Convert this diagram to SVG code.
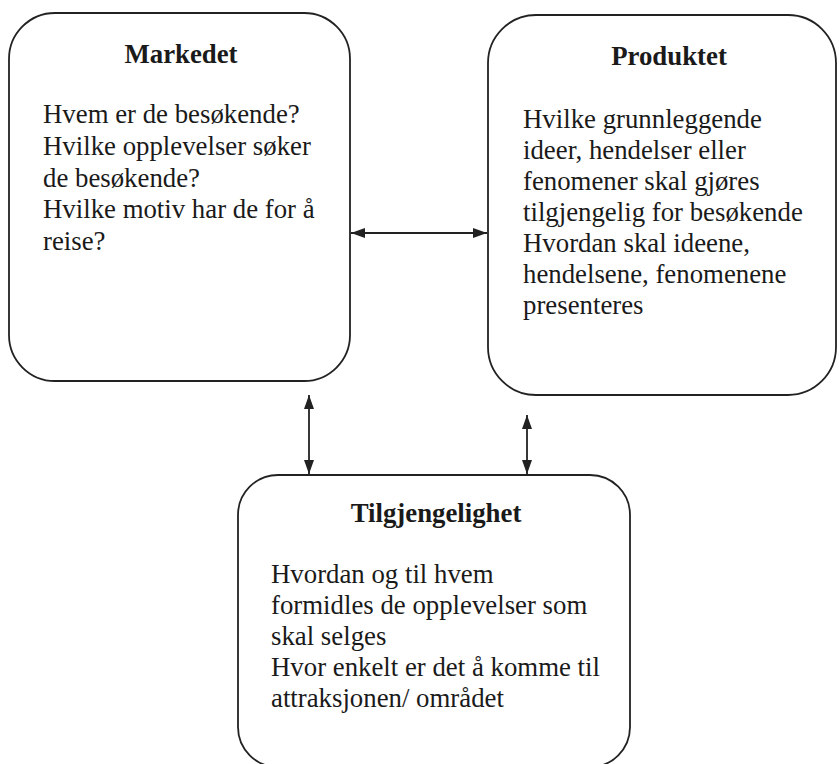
<svg xmlns="http://www.w3.org/2000/svg" width="839" height="764" viewBox="0 0 839 764">
  <defs>
    <style>
      .box { fill: #ffffff; stroke: #222222; stroke-width: 1.8; }
      .ttl { font-weight: bold; text-anchor: middle; }
      .conn { stroke: #222222; stroke-width: 1.8; fill: none; }
    </style>
    <marker id="arrow" viewBox="0 0 14 10" refX="14" refY="5" markerWidth="14" markerHeight="10" markerUnits="userSpaceOnUse" orient="auto-start-reverse">
      <path d="M0,0 L14,5 L0,10 Z" fill="#222222"/>
    </marker>
  </defs>
  <rect width="839" height="764" fill="#ffffff"/>

  <g id="markedet" font-family="Liberation Serif" font-size="26.8px" fill="#1a1a1a">
    <rect class="box" x="9" y="13" width="341" height="368" rx="46" ry="46"/>
    <text class="ttl" x="181" y="63">Markedet</text>
    <text x="43" y="123">Hvem er de besøkende?</text>
    <text x="43" y="155">Hvilke opplevelser søker</text>
    <text x="43" y="187">de besøkende?</text>
    <text x="43" y="218">Hvilke motiv har de for å</text>
    <text x="43" y="250">reise?</text>
  </g>

  <g id="produktet" font-family="Liberation Serif" font-size="26.8px" fill="#1a1a1a">
    <rect class="box" x="488" y="15" width="348" height="380" rx="48" ry="48"/>
    <text class="ttl" x="669" y="65">Produktet</text>
    <text x="523" y="128">Hvilke grunnleggende</text>
    <text x="523" y="159">ideer, hendelser eller</text>
    <text x="523" y="190">fenomener skal gjøres</text>
    <text x="523" y="221">tilgjengelig for besøkende</text>
    <text x="523" y="252">Hvordan skal ideene,</text>
    <text x="523" y="283">hendelsene, fenomenene</text>
    <text x="523" y="314">presenteres</text>
  </g>

  <g id="tilgjengelighet" font-family="Liberation Serif" font-size="26.8px" fill="#1a1a1a">
    <rect class="box" x="238" y="475" width="392" height="292" rx="40" ry="40"/>
    <text class="ttl" x="436" y="522">Tilgjengelighet</text>
    <text x="271" y="583">Hvordan og til hvem</text>
    <text x="271" y="614">formidles de opplevelser som</text>
    <text x="271" y="645">skal selges</text>
    <text x="271" y="676">Hvor enkelt er det å komme til</text>
    <text x="271" y="707">attraksjonen/ området</text>
  </g>

  <g id="connectors">
    <line class="conn" x1="351" y1="233" x2="487" y2="233" marker-start="url(#arrow)" marker-end="url(#arrow)"/>
    <line class="conn" x1="309" y1="395" x2="309" y2="474" marker-start="url(#arrow)" marker-end="url(#arrow)"/>
    <line class="conn" x1="527" y1="415" x2="527" y2="474" marker-start="url(#arrow)" marker-end="url(#arrow)"/>
  </g>
</svg>
